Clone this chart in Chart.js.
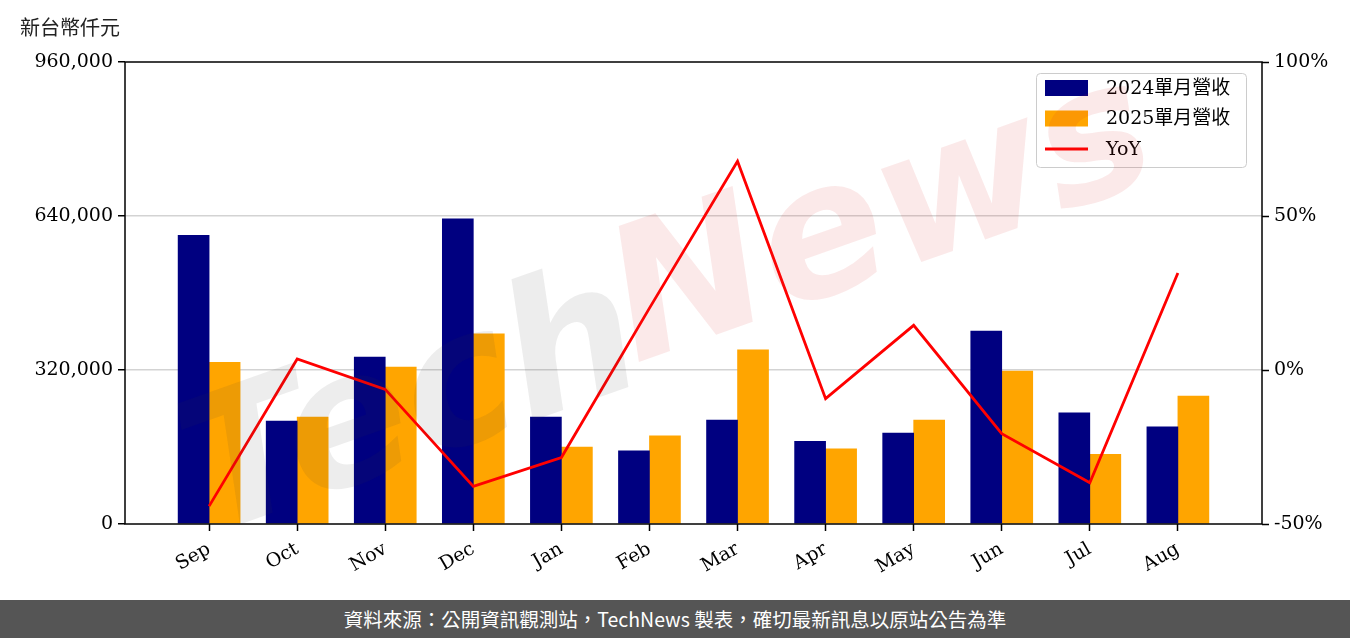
<!DOCTYPE html>
<html>
<head>
<meta charset="utf-8">
<script src="https://cdn.jsdelivr.net/npm/chart.js@4.4.1/dist/chart.umd.min.js"></script>
<style>
  html, body { margin: 0; padding: 0; background: #fff; }
  #wrap { position: relative; width: 1350px; height: 600px; }
  #footer {
    width: 1350px; height: 38px; background: #555555; color: #fff;
    font: 19.5px "Noto Sans CJK TC", sans-serif; text-align: center; line-height: 38px;
  }
</style>
</head>
<body>
<div id="wrap"><canvas id="revChart" width="1350" height="600"></canvas></div>
<div id="footer">資料來源：公開資訊觀測站，TechNews 製表，確切最新訊息以原站公告為準</div>
<script>
// 月份
const months = ['Sep', 'Oct', 'Nov', 'Dec', 'Jan', 'Feb', 'Mar', 'Apr', 'May', 'Jun', 'Jul', 'Aug'];
// 單月營收（新台幣仟元）
const rev2024 = [600000, 214000, 347000, 634000, 222000, 152000, 216000, 172000, 189000, 401000, 231000, 202000];
const rev2025 = [336000, 222000, 326000, 395000, 160000, 183000, 362000, 156000, 216000, 318000, 145000, 266000];
// 年增率 (%)
const yoy = [-44.2, 3.6, -6.3, -37.8, -28.4, 20.1, 67.8, -9.3, 14.5, -20.7, -36.6, 31.5];
// 軸刻度
const leftTicks = [0, 320000, 640000, 960000];
const rightTicks = [-50, 0, 50, 100];

const serif = '"DejaVu Serif", "Noto Sans CJK TC", serif';
const toPts = arr => arr.map((v, i) => ({ x: i, y: v }));

const extras = {
  id: 'extras',
  afterDraw(chart) {
    const ctx = chart.ctx;
    const a = chart.chartArea;

    // 外框
    ctx.save();
    ctx.strokeStyle = '#000';
    ctx.lineWidth = 1.5;
    ctx.strokeRect(a.left, a.top, a.right - a.left, a.bottom - a.top);
    ctx.restore();

    // 單位
    ctx.save();
    ctx.fillStyle = '#222';
    ctx.font = '20px "Noto Sans CJK TC", sans-serif';
    ctx.textBaseline = 'middle';
    ctx.fillText('新台幣仟元', 20, 27);
    ctx.restore();

    // 圖例
    const lx = 1036, ly = 73, lw = 210, lh = 94;
    ctx.save();
    ctx.fillStyle = 'rgba(255,255,255,0.8)';
    ctx.strokeStyle = '#cccccc';
    ctx.lineWidth = 1;
    ctx.beginPath();
    ctx.roundRect(lx + 0.5, ly + 0.5, lw, lh, 4);
    ctx.fill();
    ctx.stroke();
    ctx.font = '19px ' + serif;
    ctx.textBaseline = 'middle';
    chart.data.datasets.forEach((ds, i) => {
      const cy = 88 + i * 30.5;
      if (ds.type === 'line') {
        ctx.strokeStyle = ds.borderColor;
        ctx.lineWidth = 3;
        ctx.beginPath();
        ctx.moveTo(1045, cy);
        ctx.lineTo(1088, cy);
        ctx.stroke();
      } else {
        ctx.fillStyle = ds.backgroundColor;
        ctx.fillRect(1045, cy - 8, 43, 16);
      }
      ctx.fillStyle = '#000';
      ctx.fillText(ds.label, 1106, cy + 1);
    });
    ctx.restore();

    // 浮水印
    ctx.save();
    ctx.translate(640, 300);
    ctx.rotate(-0.34);
    ctx.textAlign = 'center';
    ctx.textBaseline = 'middle';
    ctx.font = 'italic bold 185px "DejaVu Sans", sans-serif';
    ctx.fillStyle = 'rgba(60,60,60,0.09)';
    ctx.fillText('Tech', -250, 30);
    ctx.fillStyle = 'rgba(215,40,40,0.10)';
    ctx.fillText('News', 255, 10);
    ctx.restore();
  }
};

new Chart(document.getElementById('revChart'), {
  type: 'bar',
  data: {
    datasets: [
      {
        label: '2024單月營收',
        data: toPts(rev2024),
        backgroundColor: '#000080',
        barThickness: 31,
        yAxisID: 'y',
        order: 1
      },
      {
        label: '2025單月營收',
        data: toPts(rev2025),
        backgroundColor: '#FFA500',
        barThickness: 31,
        yAxisID: 'y',
        order: 1
      },
      {
        type: 'line',
        label: 'YoY',
        data: toPts(yoy),
        borderColor: '#FF0000',
        backgroundColor: '#FF0000',
        borderWidth: 2.8,
        pointRadius: 0,
        tension: 0,
        yAxisID: 'y1',
        order: 0
      }
    ]
  },
  options: {
    responsive: false,
    animation: false,
    layout: { padding: { top: 62, left: 0, right: 0, bottom: 0 } },
    plugins: {
      legend: { display: false },
      tooltip: { enabled: false }
    },
    scales: {
      x: {
        type: 'linear',
        offset: false,
        min: -0.955,
        max: 11.955,
        afterBuildTicks: s => { s.ticks = months.map((m, i) => ({ value: i })); },
        afterFit: s => { s.height = 76; },
        ticks: {
          autoSkip: false,
          minRotation: 30,
          maxRotation: 30,
          padding: 7,
          color: '#000',
          font: { family: serif, size: 19 },
          callback: v => months[v]
        },
        grid: { offset: false, drawOnChartArea: false, tickLength: 7, tickColor: '#000', tickWidth: 1.5 },
        border: { display: false }
      },
      y: {
        position: 'left',
        min: leftTicks[0],
        max: leftTicks[leftTicks.length - 1],
        afterBuildTicks: s => { s.ticks = leftTicks.map(v => ({ value: v })); },
        afterFit: s => { s.width = 125; },
        ticks: {
          padding: 5,
          color: '#000',
          font: { family: serif, size: 19 },
          callback: v => v.toLocaleString('en-US')
        },
        grid: {
          color: c => (c.tick && (c.tick.value === 0 || c.tick.value === 960000)) ? 'rgba(0,0,0,0)' : '#d3d3d3',
          lineWidth: 1.5,
          tickLength: 7,
          tickColor: '#000',
          tickWidth: 1.5
        },
        border: { display: false }
      },
      y1: {
        position: 'right',
        min: rightTicks[0],
        max: rightTicks[rightTicks.length - 1],
        afterBuildTicks: s => { s.ticks = rightTicks.map(v => ({ value: v })); },
        afterFit: s => { s.width = 88; },
        ticks: {
          padding: 5,
          color: '#000',
          font: { family: serif, size: 19 },
          callback: v => v + '%'
        },
        grid: { drawOnChartArea: false, tickLength: 7, tickColor: '#000', tickWidth: 1.5 },
        border: { display: false }
      }
    }
  },
  plugins: [extras]
});
</script>
</body>
</html>
